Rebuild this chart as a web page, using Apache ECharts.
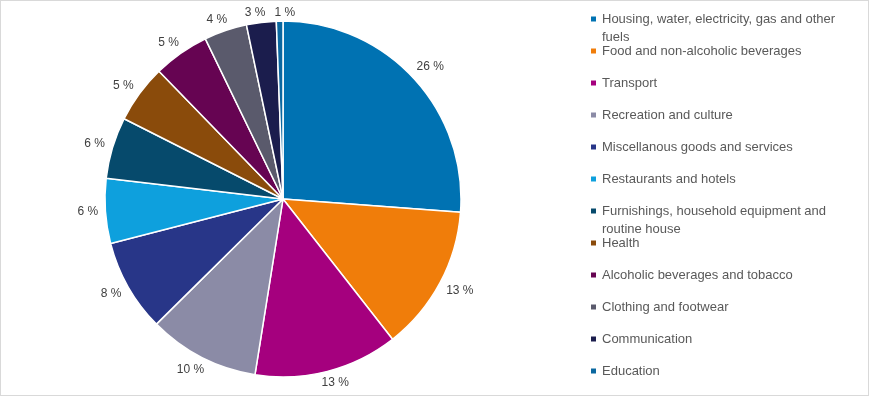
<!DOCTYPE html>
<html>
<head>
<meta charset="utf-8">
<script src="https://cdn.jsdelivr.net/npm/echarts@6/dist/echarts.min.js"></script>
<style>
  html, body { margin: 0; padding: 0; background: #fff; }
  #chart { width: 869px; height: 396px; box-sizing: border-box; border: 1px solid #d9d9d9; }
</style>
</head>
<body>
<div id="chart"></div>
<script>
"use strict";

// consumption shares (percent)
const categories = [
    "Housing, water, electricity, gas and other fuels",
    "Food and non-alcoholic beverages",
    "Transport",
    "Recreation and culture",
    "Miscellanous goods and services",
    "Restaurants and hotels",
    "Furnishings, household equipment and routine house",
    "Health",
    "Alcoholic beverages and tobacco",
    "Clothing and footwear",
    "Communication",
    "Education"
];
const shares = [26.25, 13.3, 13.1, 10.1, 8.4, 5.9, 5.6, 5.3, 5.1, 3.9, 2.7, 0.6];
const colors = [
    "#0072b2", "#f07d0a", "#a5007e", "#8b8ba6", "#283688", "#0ea0dd",
    "#064a6c", "#8a4b0b", "#660452", "#5a5a6c", "#1b1d4d", "#0b68a0"
];
// names that run onto a second line in the legend
const wrappedNames = [0, 6];

let chart = echarts.init(document.getElementById("chart"), null, { renderer: "canvas" });

let pieData = categories.map((name, i) => ({
    name: name,
    value: shares[i],
    itemStyle: { color: colors[i] }
}));

// legend rows keep a fixed pitch even where a name wraps. the marker sits in
// the middle of the text block, so a wrapped name gets an empty line on top
// to keep the marker on its first line; each wrapped name is its own block.
const legendStep = 32;
const lineH = 18;
let blocks = [];
for (let i = 0; i < categories.length; i++) {
    let last = blocks[blocks.length - 1];
    if (wrappedNames.includes(i) || !last || wrappedNames.includes(last[0])) {
        blocks.push([i]);
    } else {
        last.push(i);
    }
}

let legends = blocks.map(b => {
    let wrapped = wrappedNames.includes(b[0]);
    let rowMid = 18 + b[0] * legendStep;
    return {
        orient: "vertical",
        left: 588,
        top: rowMid - (wrapped ? lineH * 1.5 : lineH / 2),
        padding: 0,
        icon: "rect",
        itemWidth: 7,
        itemHeight: 7,
        itemGap: legendStep - lineH,
        selectedMode: false,
        data: b.map(i => categories[i]),
        formatter: name => (wrapped ? "\n" + name : name),
        textStyle: {
            fontSize: 13,
            color: "#595959",
            width: 244,
            overflow: "break",
            lineHeight: lineH
        }
    };
});

// direction of each slice's middle, clockwise from 12 o'clock
let total = shares.reduce((a, b) => a + b, 0);
let acc = 0;
let midDir = shares.map(v => {
    let a = (acc + v / 2) / total * 2 * Math.PI;
    acc += v;
    return [Math.sin(a), -Math.cos(a)];
});

// push each label out so its box just clears the rim (like the office chart)
function placeLabel(p) {
    let d = midDir[p.dataIndex];
    let w = p.labelRect.width, h = p.labelRect.height;
    if (p.dataIndex === categories.length - 1) {
        return { align: "left", dy: d[1] * h / 2 };
    }
    let ext = Math.abs(d[0]) * w / 2 + Math.abs(d[1]) * h / 2;
    return { align: "center", dx: d[0] * ext, dy: d[1] * ext };
}

chart.setOption({
    animation: false,
    textStyle: { fontFamily: "Liberation Sans, Arial, sans-serif" },
    legend: legends,
    series: [{
        type: "pie",
        center: [282, 198],
        radius: 178,
        startAngle: 90,
        clockwise: true,
        avoidLabelOverlap: false,
        data: pieData,
        itemStyle: { borderColor: "#fff", borderWidth: 1.5 },
        label: {
            show: true,
            position: "outside",
            fontSize: 12,
            color: "#404040",
            formatter: p => Math.round(p.percent) + " %"
        },
        labelLine: { show: false, length: 2, length2: 0 },
        labelLayout: placeLabel,
        emphasis: { disabled: true }
    }]
});
</script>
</body>
</html>
